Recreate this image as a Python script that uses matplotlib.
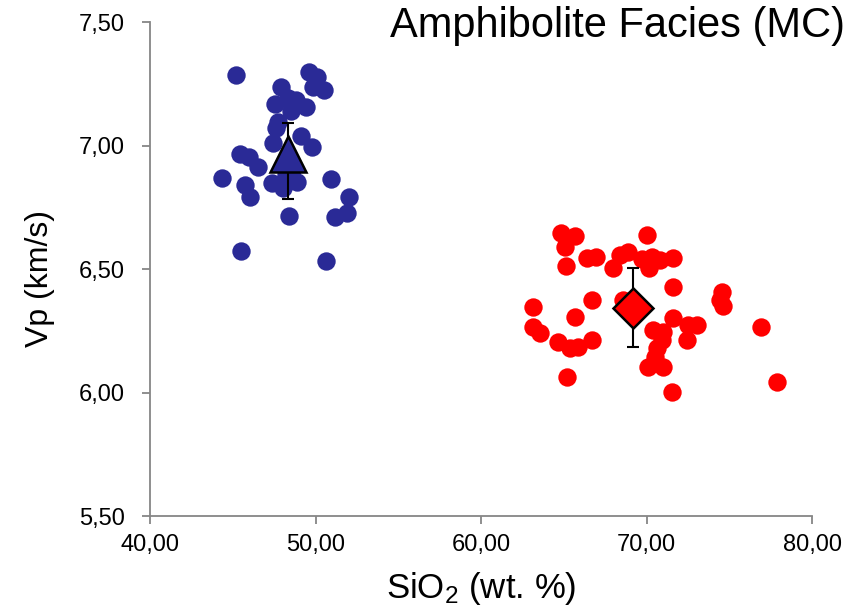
import matplotlib
matplotlib.use("Agg")
import matplotlib.pyplot as plt
from matplotlib.ticker import FuncFormatter

plt.rcParams['font.family'] = ['Liberation Sans', 'DejaVu Sans']
plt.rcParams['mathtext.fontset'] = 'custom'
plt.rcParams['mathtext.rm'] = 'Liberation Sans'
plt.rcParams['mathtext.default'] = 'regular'

# mafic samples (blue)
mafic_sio2 = [45.20, 49.63, 50.11, 49.83, 50.53, 47.90, 47.55, 48.36, 48.82, 48.54,
              49.43, 47.75, 47.61, 49.11, 49.77, 47.41, 45.44, 46.00, 46.54, 44.33,
              45.74, 46.04, 47.35, 48.05, 48.90, 50.94, 52.04, 51.89, 51.18, 48.42,
              45.48, 50.62, 48.22, 48.60]
mafic_vp = [7.285, 7.299, 7.279, 7.236, 7.226, 7.238, 7.167, 7.191, 7.184, 7.140,
            7.157, 7.096, 7.072, 7.038, 6.995, 7.009, 6.964, 6.955, 6.914, 6.867,
            6.840, 6.793, 6.847, 6.827, 6.853, 6.864, 6.793, 6.726, 6.712, 6.715,
            6.573, 6.534, 6.880, 6.900]

# felsic samples (red)
felsic_sio2 = [64.82, 65.68, 65.08, 70.01, 65.14, 66.42, 66.95, 68.40, 68.90, 67.99,
               69.71, 70.31, 70.82, 71.62, 70.17, 71.58, 74.54, 74.44, 74.60, 63.16,
               66.69, 68.60, 65.68, 71.58, 72.53, 73.03, 70.41, 71.02, 72.43, 63.12,
               63.56, 64.67, 65.38, 65.88, 66.69, 70.92, 70.62, 70.51, 70.11, 70.98,
               76.90, 65.18, 71.52, 77.87]
felsic_vp = [6.647, 6.634, 6.590, 6.638, 6.513, 6.543, 6.547, 6.557, 6.570, 6.503,
             6.539, 6.550, 6.536, 6.543, 6.503, 6.426, 6.408, 6.374, 6.350, 6.345,
             6.374, 6.374, 6.304, 6.303, 6.273, 6.273, 6.253, 6.246, 6.213, 6.266,
             6.240, 6.206, 6.179, 6.185, 6.213, 6.213, 6.179, 6.145, 6.104, 6.102,
             6.264, 6.064, 6.003, 6.044]

# averages with error bars
mafic_mean = (48.34, 6.965)
mafic_err = ([0.18], [0.125])
felsic_mean = (69.2, 6.343)
felsic_err = 0.16

blue = '#2A2A96'
red = '#FF0000'
gray = '#868686'

fig = plt.figure(figsize=(8.5, 6.13), dpi=100)
ax = fig.add_axes([0.1765, 0.1582, 0.9553 - 0.1765, 0.9641 - 0.1582])

ax.scatter(mafic_sio2, mafic_vp, s=175, color=blue, linewidths=0, zorder=2)
ax.scatter(felsic_sio2, felsic_vp, s=175, color=red, linewidths=0, zorder=2)

ax.errorbar(mafic_mean[0], mafic_mean[1], yerr=mafic_err, fmt='none',
            ecolor='black', elinewidth=1.5, capsize=4.3, capthick=1.5, zorder=3)
ax.plot(mafic_mean[0], mafic_mean[1], marker='^', markersize=26, color=blue,
        markeredgecolor='black', markeredgewidth=1.8, zorder=4)
ax.errorbar(felsic_mean[0], felsic_mean[1], yerr=felsic_err, fmt='none',
            ecolor='black', elinewidth=1.5, capsize=4.3, capthick=1.5, zorder=3)
ax.plot(felsic_mean[0], felsic_mean[1], marker='D', markersize=20, color=red,
        markeredgecolor='black', markeredgewidth=1.8, zorder=4)

ax.set_xlim(40, 80)
ax.set_ylim(5.5, 7.5)
ax.set_xticks([40, 50, 60, 70, 80])
ax.set_yticks([5.5, 6.0, 6.5, 7.0, 7.5])
fmt = FuncFormatter(lambda v, p: f"{v:.2f}".replace('.', ','))
ax.xaxis.set_major_formatter(fmt)
ax.yaxis.set_major_formatter(fmt)

for side in ['top', 'right']:
    ax.spines[side].set_visible(False)
for side in ['left', 'bottom']:
    ax.spines[side].set_color(gray)
    ax.spines[side].set_linewidth(1.3)
ax.tick_params(axis='both', direction='out', length=6, width=1.3, color=gray,
               labelsize=17, labelcolor='black')
ax.tick_params(axis='y', pad=12)
ax.tick_params(axis='x', pad=7)

ax.set_xlabel('SiO$_2$ (wt. %)', fontsize=25, labelpad=10)
ax.set_ylabel('Vp (km/s)', fontsize=23, labelpad=17)
ax.yaxis.label.set_y(0.48)

fig.text(390 / 850, 1 - 37 / 613, 'Amphibolite Facies (MC)', fontsize=30,
         ha='left', va='baseline')

fig.savefig('out.png', dpi=100)
